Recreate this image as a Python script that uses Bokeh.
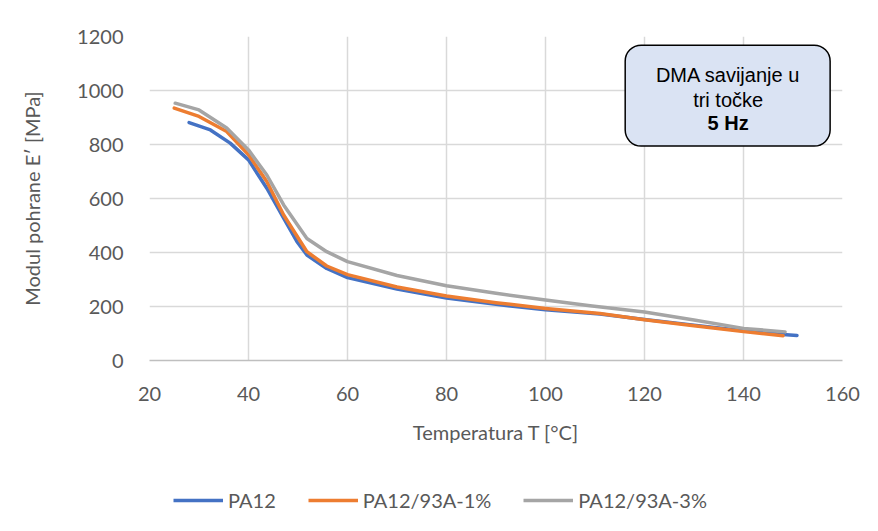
from bokeh.plotting import figure
from bokeh.layouts import column
from bokeh.models import Legend, LegendItem, Label, BoxAnnotation, FixedTicker
from bokeh.embed import file_html
from bokeh.resources import INLINE

# ---- data ----
temp_pa12 = [28, 32.3, 36.3, 40, 43.7, 47.1, 49.8, 51.8, 55.8, 60, 70, 80, 90, 100, 111, 120, 130, 140, 148, 150.8]
e_pa12 = [881, 854, 805, 743, 638, 527, 440, 391, 341, 307, 265, 231, 208, 188, 172, 152, 131, 110, 96, 93]

temp_1 = [25, 30, 35.6, 40, 43.7, 47.1, 51.8, 55.8, 60, 70, 80, 90, 100, 111, 120, 130, 140, 148]
e_1 = [935, 904, 848, 762, 663, 539, 403, 350, 318, 272, 239, 214, 193, 174, 151, 129, 107, 92]

temp_3 = [25.2, 30, 35.6, 40, 43.7, 47.1, 51.8, 55.8, 60, 70, 80, 90, 100, 109, 120, 130, 140, 148.4]
e_3 = [953, 928, 861, 780, 687, 576, 452, 403, 366, 315, 277, 249, 224, 203, 180, 150, 119, 106]

series_names = ["PA12", "PA12/93A-1%", "PA12/93A-3%"]
series_colors = ["#4472C4", "#ED7D31", "#A5A5A5"]
series_x = [temp_pa12, temp_1, temp_3]
series_y = [e_pa12, e_1, e_3]
x_ticks = [20, 40, 60, 80, 100, 120, 140, 160]
y_ticks = [0, 200, 400, 600, 800, 1000, 1200]

TXT = "#595959"
FONT = "Lato"

p = figure(width=862, height=460, x_range=(20, 160), y_range=(0, 1200),
           output_backend="svg", toolbar_location=None,
           min_border_left=149, min_border_right=20, min_border_top=36, min_border_bottom=100)
p.outline_line_color = None
p.background_fill_color = "white"
p.border_fill_color = "white"

for ax in (p.xaxis, p.yaxis):
    ax.major_tick_line_color = None
    ax.minor_tick_line_color = None
    ax.major_label_text_font = FONT
    ax.major_label_text_font_size = "20px"
    ax.major_label_text_color = TXT
    ax.axis_label_text_font = FONT
    ax.axis_label_text_font_size = "20px"
    ax.axis_label_text_color = TXT
    ax.axis_label_text_font_style = "normal"
    ax.major_label_standoff = 20

p.xaxis.ticker = FixedTicker(ticks=x_ticks)
p.yaxis.ticker = FixedTicker(ticks=y_ticks)
p.xaxis.axis_line_color = "#bfbfbf"
p.xaxis.axis_line_width = 1.5
p.yaxis.axis_line_color = None
p.xaxis.axis_label = "Temperatura T [°C]"
p.yaxis.axis_label = "Modul pohrane E′ [MPa]"
p.xaxis.axis_label_standoff = 16
p.yaxis.axis_label_standoff = 30

p.xgrid.ticker = FixedTicker(ticks=x_ticks)
p.ygrid.ticker = FixedTicker(ticks=y_ticks)
p.grid.grid_line_color = "#d9d9d9"
p.grid.grid_line_width = 1.5

for xs, ys, c in zip(series_x, series_y, series_colors):
    p.line(xs, ys, line_color=c, line_width=3.5, line_join="round", line_cap="round")

box = BoxAnnotation(left=116.1, right=157.5, top=1168, bottom=794,
                    fill_color="#dae3f3", fill_alpha=1.0, line_color="black", line_width=1.5,
                    line_alpha=1.0, border_radius=16)
p.add_layout(box)

for txt, yy, style in [("DMA savijanje u", 1058, "normal"), ("tri točke", 965, "normal"), ("5 Hz", 879, "bold")]:
    p.add_layout(Label(x=136.9, y=yy, text=txt, text_align="center", text_baseline="middle",
                       text_font="Liberation Sans", text_font_size="20px", text_color="black",
                       text_font_style=style))

# ---- legend strip (series drawn out of its visible range; only the legend shows) ----
lg = figure(width=862, height=55, x_range=(5000, 5001), y_range=(5000, 5001),
            output_backend="svg", toolbar_location=None,
            min_border_left=0, min_border_right=0, min_border_top=0, min_border_bottom=0)
lg.axis.visible = False
lg.grid.visible = False
lg.outline_line_color = None
lg.background_fill_color = "white"
lg.border_fill_color = "white"
lr = [lg.line(xs, ys, line_color=c, line_width=3.5) for xs, ys, c in zip(series_x, series_y, series_colors)]
legend = Legend(items=[LegendItem(label=n, renderers=[r]) for n, r in zip(series_names, lr)],
                orientation="horizontal", location=(24, 3),
                padding=0, margin=0, spacing=32, label_standoff=5,
                glyph_width=50, glyph_height=20, label_height=20,
                border_line_color=None, background_fill_alpha=0,
                label_text_font=FONT, label_text_font_size="20px", label_text_color=TXT)
lg.add_layout(legend)

layout = column(p, lg, spacing=0)
open("out.html", "w").write(file_html(layout, INLINE))
